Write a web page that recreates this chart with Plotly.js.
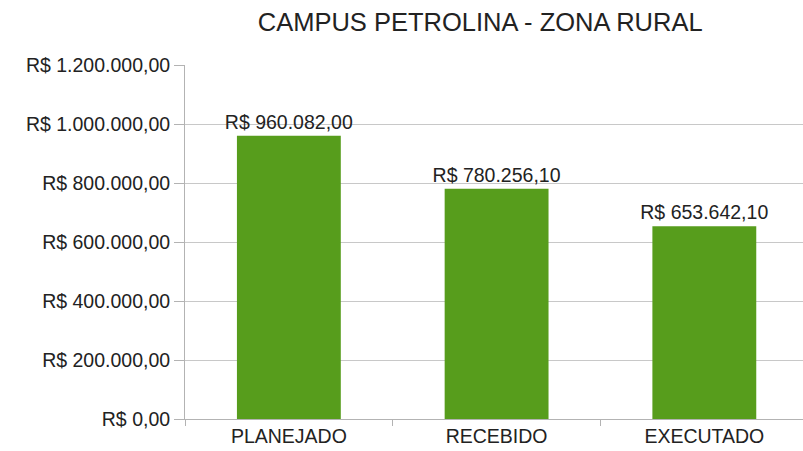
<!DOCTYPE html>
<html><head><meta charset="utf-8">
<script src="https://cdn.plot.ly/plotly-3.0.1.min.js"></script>
<style>html,body{margin:0;padding:0;background:#fff}#chart{width:803px;height:451px}</style>
</head><body><div id="chart"></div>
<script>
const categories = ["PLANEJADO", "RECEBIDO", "EXECUTADO"];
const values = [960082.00, 780256.10, 653642.10];
const valueLabels = ["R$ 960.082,00", "R$ 780.256,10", "R$ 653.642,10"];
const yTickVals = [0, 200000, 400000, 600000, 800000, 1000000, 1200000];
const yTickText = ["R$ 0,00", "R$ 200.000,00", "R$ 400.000,00", "R$ 600.000,00", "R$ 800.000,00", "R$ 1.000.000,00", "R$ 1.200.000,00"];

const trace = {
  type: "bar", x: categories, y: values,
  text: valueLabels, textposition: "outside", cliponaxis: false, constraintext: "none",
  textfont: {family: "Liberation Sans, Arial, sans-serif", size: 19.5, color: "#222"},
  marker: {color: "#579d1c"}, hoverinfo: "none"
};
const layout = {
  width: 803, height: 451,
  margin: {l: 185, r: 0, t: 65, b: 32},
  paper_bgcolor: "#fff", plot_bgcolor: "#fff",
  font: {family: "Liberation Sans, Arial, sans-serif", color: "#222"},
  title: {text: "CAMPUS PETROLINA - ZONA RURAL", x: 0.598, xref: "container", xanchor: "center",
          y: 0.95, yref: "container", yanchor: "middle",
          font: {family: "Liberation Sans, Arial, sans-serif", size: 25.5, color: "#222"}},
  bargap: 0.5,
  showlegend: false,
  xaxis: {
    range: [-0.5, 2.475],
    tickfont: {size: 19.5, color: "#222"}, ticks: "outside", tickson: "boundaries",
    ticklen: 6, tickcolor: "#b3b3b3", showline: true, linecolor: "#b3b3b3", linewidth: 1,
    showgrid: false, fixedrange: true
  },
  yaxis: {
    range: [0, 1200000], tickvals: yTickVals, ticktext: yTickText,
    tickfont: {size: 19.5, color: "#222"}, ticks: "outside", ticklen: 10, tickcolor: "#b3b3b3",
    showline: true, linecolor: "#b3b3b3", linewidth: 1,
    showgrid: true, gridcolor: "#c8c8c8", gridwidth: 1, zeroline: false, fixedrange: true
  }
};
Plotly.newPlot("chart", [trace], layout, {displayModeBar: false, staticPlot: true});
</script></body></html>
